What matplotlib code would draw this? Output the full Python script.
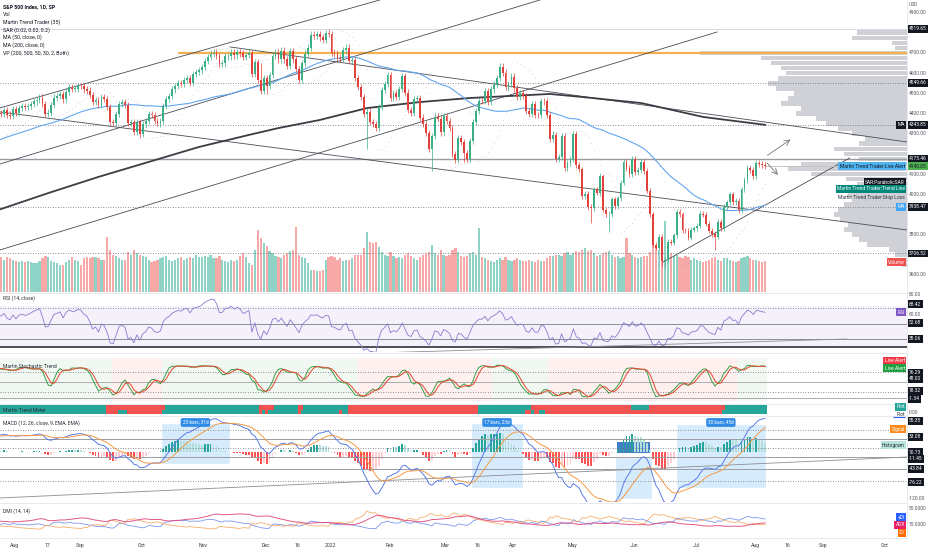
import numpy as np
import pandas as pd
import matplotlib
matplotlib.use("Agg")
import matplotlib.pyplot as plt
from matplotlib.patches import Rectangle

plt.rcParams['font.family'] = ['Roboto', 'DejaVu Sans']

W, H = 932, 550
PLOT_R = 907          # right edge of the panes (px)
XMIN, XMAX = 0.61, 308.1

# daily closes before the first visible bar (warm-up for MA50 and oscillators)
pre_close = [4174, 4163, 4128, 4116, 4160, 4156, 4198, 4188, 4196, 4201, 4204,
             4202, 4209, 4193, 4230, 4227, 4227, 4220, 4239, 4247, 4255, 4246,
             4224, 4222, 4166, 4224, 4246, 4242, 4266, 4281, 4291, 4291, 4298,
             4320, 4352, 4344, 4358, 4321, 4370, 4385, 4369, 4374, 4361, 4327,
             4258, 4323, 4359, 4368, 4412, 4422]

# visible daily closes, 27 Jul 2021 .. 8 Aug 2022
close = [4401, 4400, 4419, 4395,
         4387, 4423, 4403, 4429, 4437, 4432, 4436, 4447, 4460, 4468, 4479, 4448,
         4400, 4405, 4442, 4479, 4486, 4496, 4470, 4509, 4529, 4523,
         4524, 4537, 4535, 4520, 4514, 4493, 4459, 4468, 4443, 4481, 4473, 4433,
         4358, 4354, 4396, 4449, 4455, 4443, 4353, 4360, 4307,
         4357, 4300, 4346, 4363, 4399, 4391, 4361, 4351, 4364, 4438, 4471, 4486,
         4520, 4537, 4549, 4545, 4567, 4575, 4551, 4596, 4605,
         4614, 4631, 4660, 4680, 4697, 4702, 4685, 4646, 4649, 4683, 4683, 4701,
         4689, 4705, 4698, 4682, 4690, 4701, 4595, 4655, 4567,
         4513, 4577, 4538, 4592, 4687, 4701, 4668, 4712, 4669, 4635, 4709, 4669,
         4621, 4568, 4649, 4697, 4726, 4791, 4786, 4793, 4778, 4766,
         4797, 4794, 4701, 4696, 4677, 4670, 4713, 4726, 4660, 4663, 4577, 4533,
         4483, 4398, 4410, 4357, 4350, 4327, 4432, 4516,
         4546, 4589, 4477, 4501, 4484, 4522, 4587, 4504, 4419, 4402, 4472, 4475,
         4380, 4349, 4305, 4226, 4288, 4385, 4374,
         4306, 4387, 4364, 4329, 4201, 4171, 4278, 4260, 4204, 4173, 4262, 4358,
         4412, 4463, 4461, 4512, 4457, 4520, 4543, 4576, 4632, 4603, 4530,
         4546, 4583, 4525, 4481, 4500, 4488, 4413, 4397, 4446, 4392, 4391, 4463,
         4460, 4394, 4272, 4296, 4175, 4183, 4288, 4132,
         4155, 4175, 4300, 4147, 4123, 3991, 4001, 3936, 3930, 4024, 4008, 4089,
         3924, 3901, 3901, 3974, 3941, 3979, 4058, 4158, 4132,
         4101, 4177, 4109, 4121, 4161, 4116, 4018, 3901, 3750, 3735, 3790, 3667,
         3675, 3765, 3760, 3796, 3912, 3901, 3821, 3819, 3785,
         3825, 3831, 3845, 3903, 3899, 3855, 3819, 3802, 3790, 3863, 3831, 3937,
         3960, 3999, 3962, 3967, 3921, 4024, 4072, 4130,
         4119, 4091, 4155, 4152, 4145, 4140]

# volume in billions
volume = [2.9, 2.8, 2.6, 2.8,
          2.7, 2.6, 2.5, 2.4, 2.5, 2.4, 2.5, 2.4, 2.3, 2.3, 2.5, 2.7, 2.9, 2.8,
          2.5, 2.4, 2.3, 2.2, 2.2, 2.4, 2.6, 2.8,
          2.6, 2.5, 2.2, 2.7, 2.8, 2.7, 2.8, 2.8, 2.7, 2.6, 2.6, 4.4, 3.4, 3.0,
          2.9, 2.7, 2.6, 2.6, 3.2, 3.0, 3.4,
          3.1, 3.0, 2.9, 2.8, 2.6, 2.4, 2.5, 2.6, 2.7, 2.8, 2.9, 2.6, 2.5, 2.6,
          2.7, 2.8, 2.6, 2.7, 2.8, 2.7, 3.0,
          2.8, 2.8, 2.9, 2.8, 3.0, 2.7, 2.7, 2.9, 2.6, 2.5, 2.4, 2.6, 2.5, 2.6,
          2.9, 3.1, 2.8, 2.3, 2.2, 3.4, 5.0,
          4.3, 3.9, 3.7, 3.3, 3.1, 2.9, 2.8, 2.7, 3.0, 3.1, 3.3, 3.4, 5.2, 3.0,
          2.8, 2.7, 2.3, 1.8, 1.8, 1.7, 1.7, 1.8,
          2.6, 2.8, 2.9, 2.8, 2.6, 2.7, 2.5, 2.6, 2.6, 2.7, 3.0, 3.0, 3.0, 3.5,
          4.8, 4.0, 3.9, 4.0, 3.6, 3.2,
          3.0, 2.9, 3.2, 2.9, 2.7, 2.8, 2.7, 3.0, 3.1, 2.9, 2.7, 2.6, 2.8, 3.0,
          3.1, 3.2, 3.8, 3.1, 3.0,
          3.4, 3.0, 2.9, 3.0, 3.4, 3.5, 3.2, 2.9, 2.8, 2.9, 3.1, 3.2, 3.0, 5.1,
          2.8, 2.7, 2.6, 2.5, 2.4, 2.6, 2.7, 2.6, 2.8,
          2.6, 2.5, 2.6, 2.7, 2.6, 2.5, 2.5, 2.6, 2.5, 2.4, 2.6, 2.5, 2.5, 2.7,
          2.9, 2.9, 3.0, 3.0, 2.9, 3.1,
          3.2, 3.0, 3.1, 3.3, 3.2, 3.4, 3.5, 3.3, 3.4, 3.1, 2.9, 3.0, 3.1, 3.2,
          3.3, 3.0, 2.8, 2.9, 2.7, 2.8, 4.3,
          3.1, 3.0, 2.8, 2.7, 2.8, 2.9, 2.9, 3.2, 3.9, 3.6, 3.4, 3.6, 5.7, 3.3,
          3.1, 2.9, 3.0, 2.8, 2.7, 2.9, 2.8,
          2.6, 2.7, 2.6, 2.5, 2.4, 2.5, 2.6, 2.7, 2.8, 2.6, 2.5, 2.7, 2.7, 2.6,
          2.5, 2.4, 2.5, 2.7, 2.8, 2.9,
          2.7, 2.6, 2.6, 2.5, 2.4, 2.5]

# notable intraday extremes (visible bar, price)
low_marks = [(48, 4278), (91, 4495), (125, 4222), (147, 4115), (155, 4157),
             (158, 4161), (201, 3859), (207, 3811), (225, 3644), (226, 3637),
             (243, 3722)]
high_marks = [(88, 4646), (89, 4652), (112, 4819), (132, 4595), (170, 4637)]

# 200-day MA (bar, value)
ma200_bar = [0, 17, 34, 51, 68, 85, 95, 109, 125, 143, 160, 187, 198, 218, 239, 260]
ma200_val = [3922, 4006, 4086, 4160, 4234, 4294, 4328, 4368, 4427, 4457, 4477,
             4497, 4482, 4452, 4383, 4344]

# volume profile (row price, relative volume)
vp_price = np.arange(3650, 4801, 25)
vp_vol = [5, 8, 12, 18, 40, 48, 55, 62, 58, 66, 72, 68, 62, 55,
          58, 52, 50, 60, 95, 118, 105, 48, 62, 72, 48, 42,
          55, 68, 80, 90, 110, 105, 125, 118, 112, 130, 138, 128,
          120, 125, 135, 145, 205, 12, 15, 55, 50]

# drawn levels and trend lines (bar, price)
levels = [4819.65, 4549.66, 4343.85, 4175.46, 3938.47, 3706.52]
trend_lines = [((0.6, 4428), (129.4, 4963)), ((0.6, 4150), (183.7, 4963)),
               ((0.6, 3724), (243.7, 4804)), ((0.6, 4408), (308.1, 3823)),
               ((78.6, 4730), (308.1, 4259)), ((225.4, 3664), (288.7, 4180))]
arrows = [((260, 4185), (269.4, 4279)), ((260, 4165), (265, 4086))]

stoch_zones = [(0, 39, 'up'), (39, 56, 'dn'), (56, 122, 'up'), (122, 168, 'dn'),
               (168, 187, 'up'), (187, 251, 'dn'), (251, 261, 'up')]

# date ranges measured on the MACD pane (bar0, bar1, v0, v1, label)
macd_ranges = [(55.5, 78.2, -23.4, 57.5, '23 bars, 31d'),
               (160.6, 177.6, -73.2, 57.5, '17 bars, 23d'),
               (209.4, 221.3, -96.0, -13.0, ''),
               (230.1, 259.9, -73.2, 55.4, '30 bars, 45d')]

date_ticks = [4, 15, 26, 47, 68, 89, 100, 111, 131, 150, 161, 173, 193, 214, 235,
              255, 266, 278, 299]
date_labels = ['Aug', '17', 'Sep', 'Oct', 'Nov', 'Dec', '16', '2022', 'Feb', 'Mar',
               '16', 'Apr', 'May', 'Jun', 'Jul', 'Aug', '16', 'Sep', 'Oct']

legend_lines = ['S&P 500 Index, 1D, SP', 'Vol', 'Martin Trend Trader (35)',
                'SAR (0.02, 0.02, 0.2)', 'MA (50, close, 0)', 'MA (200, close, 0)',
                'VP (200, 500, 50, 30, 2, Both)']

UP, DN = '#3aaf85', '#e0413b'
VUP, VDN = '#8fd3c7', '#f6a9a6'

# ---------- derived series ----------
n_pre = len(pre_close)
n = min(len(close), len(volume))
allc = np.array(pre_close + close[:n], float)
opn = np.r_[allc[0], allc[:-1]]
pad = allc * 0.0035
hi = np.maximum(opn, allc) + pad
lo = np.minimum(opn, allc) - pad
for b, v in low_marks:
    lo[n_pre + b] = min(lo[n_pre + b], v)
for b, v in high_marks:
    hi[n_pre + b] = max(hi[n_pre + b], v)

c = pd.Series(allc)
ma50 = c.rolling(50).mean().values

d = c.diff()
rma = lambda s, k: s.ewm(alpha=1 / k, adjust=False).mean()
rs = rma(d.clip(lower=0), 14) / rma((-d).clip(lower=0), 14)
rsi = (100 - 100 / (1 + rs)).values

hs, ls = pd.Series(hi), pd.Series(lo)
raw_k = 100 * (c - ls.rolling(14).min()) / (hs.rolling(14).max() - ls.rolling(14).min())
stk = raw_k.rolling(3).mean()
std = stk.rolling(3).mean()

macd = c.ewm(span=12, adjust=False).mean() - c.ewm(span=26, adjust=False).mean()
sig = macd.ewm(span=9, adjust=False).mean()
hist = macd - sig

up_m = hs.diff()
dn_m = -ls.diff()
pdm = pd.Series(np.where((up_m > dn_m) & (up_m > 0), up_m, 0.0))
mdm = pd.Series(np.where((dn_m > up_m) & (dn_m > 0), dn_m, 0.0))
tr = pd.concat([hs - ls, (hs - c.shift()).abs(), (ls - c.shift()).abs()], axis=1).max(axis=1)
atr = rma(tr, 14)
pdi = 100 * rma(pdm, 14) / atr
mdi = 100 * rma(mdm, 14) / atr
dx = 100 * (pdi - mdi).abs() / (pdi + mdi)
adx = rma(dx.fillna(0), 14)


def psar(h, l, af0=0.02, step=0.02, amax=0.2):
    out = np.zeros(len(h))
    up, af, ep = True, af0, h[0]
    out[0] = l[0]
    for i in range(1, len(h)):
        s = out[i - 1] + af * (ep - out[i - 1])
        if up:
            s = min(s, l[i - 1], l[max(i - 2, 0)])
            if l[i] < s:
                up, s, ep, af = False, ep, l[i], af0
            elif h[i] > ep:
                ep, af = h[i], min(af + step, amax)
        else:
            s = max(s, h[i - 1], h[max(i - 2, 0)])
            if h[i] > s:
                up, s, ep, af = True, ep, h[i], af0
            elif l[i] < ep:
                ep, af = l[i], min(af + step, amax)
        out[i] = s
    return out


sar = psar(hi, lo)
ema8 = c.ewm(span=8, adjust=False).mean()
ema21 = c.ewm(span=21, adjust=False).mean()

v = slice(n_pre, n_pre + n)
xs = np.arange(n)
o_v, c_v, h_v, l_v = opn[v], allc[v], hi[v], lo[v]
rising = c_v >= o_v

# ---------- figure ----------
fig = plt.figure(figsize=(W / 100, H / 100), dpi=100)


def pane(y0, y1):
    ax = fig.add_axes([0, 1 - y1 / H, PLOT_R / W, (y1 - y0) / H])
    ax.set_xlim(XMIN, XMAX)
    ax.axis('off')
    return ax


dotted = dict(color='#6a6d78', lw=0.6, ls=(0, (1, 2)))

# volume under the price pane
axv = pane(0, 292)
axv.set_ylim(0, 292 / 12.5)
axv.bar(xs, volume[:n], width=0.75, color=np.where(rising, VUP, VDN))

# price pane
ax = pane(0, 292)
ax.set_ylim(3515.6, 4962.6)
vpw = np.array(vp_vol) / max(vp_vol) * 0.228 * (XMAX - XMIN)
ax.barh(vp_price, vpw, left=XMAX - vpw, height=23, color='#d0d1d7', zorder=0.5)
poc = vp_price[int(np.argmax(vp_vol))]
ax.hlines(poc, n - 200, XMAX, color='#f3b04f', lw=1.6, zorder=1)

for lv in levels:
    if lv in (4819.65,):
        ax.axhline(lv, color='#d6d8de', lw=0.7)
    elif lv in (4175.46,):
        ax.axhline(lv, color='#9a9ca3', lw=1.0)
    else:
        ax.axhline(lv, **dotted)
for (x0, y0), (x1, y1) in trend_lines:
    ax.plot([x0, x1], [y0, y1], color='#4a4c55', lw=0.6)
for (x0, y0), (x1, y1) in arrows:
    ax.annotate('', xy=(x1, y1), xytext=(x0, y0),
                arrowprops=dict(arrowstyle='->', color='#777', lw=0.6))
ax.hlines(c_v[-1], n - 1, 285, color='#b8bac0', lw=0.6)

ax.plot(ma200_bar, ma200_val, color='#3c3c44', lw=1.3, zorder=2)
ax.plot(xs, ma50[v], color='#62a7ef', lw=0.8, zorder=2)
ax.plot(xs, sar[v], ls='none', marker='o', ms=0.35, mew=0, color='#8f8f8f', zorder=2)

cols = np.where(rising, UP, DN)
ax.vlines(xs, l_v, h_v, colors=cols, lw=0.5, zorder=3)
body = np.maximum(np.abs(c_v - o_v), 1.5)
ax.bar(xs, body, bottom=np.minimum(o_v, c_v), width=0.62, color=cols, zorder=3)

# RSI pane
ar = pane(293, 352)
ar.set_ylim(25.12, 82.68)
ar.axhspan(30, 70, color='#7e57c2', alpha=0.08, lw=0)
ar.axhline(68.42, **dotted)
ar.axhline(52.68, color='#8c8e96', lw=0.7)
ar.axhline(38.06, color='#8c8e96', lw=0.7)
ar.axhline(30, color='#1f1f25', lw=1.1)
ar.plot([127, 287.7], [24.1, 37.8], color='#8c8e96', lw=0.6)
ar.plot(xs, rsi[v], color='#8b7ad0', lw=0.6)

# stochastic pane
ak = pane(353, 403)
ak.set_ylim(-14.7, 132.35)
for a, b, st in stoch_zones:
    ak.axvspan(a - 0.5, b - 0.5, ymin=0.04, ymax=0.9,
               color='#4caf50' if st == 'up' else '#f44336', alpha=0.08, lw=0)
ak.axhline(76.29, **dotted)
ak.axhline(48.0, color='#a0a2a8', lw=0.6)
ak.axhline(18.32, **dotted)
ak.axhline(-1.34, color='#a0a2a8', lw=0.6)
ak.plot(xs, stk.values[v], color='#3e9b46', lw=0.7)
ak.plot(xs, std.values[v], color='#e8452f', lw=0.7)

# trend meter
am = pane(404, 415)
am.set_ylim(0, 1)
top = np.where(ema8.values[v] > ema21.values[v], '#26a69a', '#f05350')
bot = np.where(c_v > ma50[v], '#26a69a', '#f05350')
am.bar(xs, 0.45, bottom=0.46, width=1.0, color=top)
am.bar(xs, 0.37, bottom=0.09, width=1.0, color=bot)

# MACD pane
ac = pane(416, 502)
ac.set_ylim(-104.4, 74.07)
hv = hist.values[v]
hp = np.r_[hv[0], hv[:-1]]
hcol = np.where(hv >= 0, np.where(hv >= hp, '#26a69a', '#b2dfdb'),
                np.where(hv < hp, '#ff5252', '#ffcdd2'))
for a, b, y0, y1, lab in macd_ranges:
    ac.add_patch(Rectangle((a, y0), b - a, y1 - y0, fc='#2196f3', alpha=0.18,
                           ec='#64b5f6', lw=0.4))
ac.axhline(45.0, **dotted)
ac.axhline(26.3, color='#9a9ca3', lw=0.7)
ac.axhline(8.1, **dotted)
ac.axhline(-11.45, color='#9a9ca3', lw=0.7)
ac.axhline(-36.0, color='#9a9ca3', lw=0.7)
ac.axhline(-61.0, **dotted)
ac.plot([0.6, 308.1], [-96, -11], color='#8c8e96', lw=0.6)
ac.bar(xs, hv, width=0.62, color=hcol)
ac.plot(xs, macd.values[v], color='#5b7be8', lw=0.7)
ac.plot(xs, sig.values[v], color='#f39a45', lw=0.7)
for a, b, y0, y1, lab in macd_ranges:
    if lab:
        ac.text((a + b) / 2, 60.6, lab, ha='center', va='center', fontsize=3.4,
                color='white', bbox=dict(boxstyle='round,pad=0.4', fc='#2f8be6', ec='none'))
    else:
        ac.add_patch(Rectangle((a + 0.3, -2.7), b - a - 0.6, 22.7, fc='#2f6fc4',
                               ec='none', alpha=0.9, zorder=0.5))

# DMI pane
ai = pane(503, 537)
ai.set_ylim(-9.67, 60.3)
ai.plot(xs, pdi.values[v], color='#6c8cf0', lw=0.6, alpha=0.9)
ai.plot(xs, mdi.values[v], color='#f5a35a', lw=0.6, alpha=0.9)
ai.plot(xs, adx.values[v], color='#e0457b', lw=0.7, alpha=0.9)
tr_x = ai.get_xaxis_transform()
for t, lab in zip(date_ticks, date_labels):
    ai.text(t + 1.6, -0.24, lab, transform=tr_x, ha='center', va='center',
            fontsize=3.7, color='#3a3d45', clip_on=False)

# ---------- overlay text ----------
ov = fig.add_axes([0, 0, 1, 1])
ov.set_xlim(0, W)
ov.set_ylim(H, 0)
ov.axis('off')
ov.set_zorder(10)

for yy in (292.5, 352.5, 403.5, 415.5, 502.5, 537.5):
    ov.hlines(yy, 0, PLOT_R, color='#e3e5ea', lw=0.6)
ov.vlines(PLOT_R, 0, 537.5, color='#e3e5ea', lw=0.6)

for k, line in enumerate(legend_lines):
    ov.text(3, 6.7 + 7.7 * k, line, fontsize=3.8, va='center', color='#131722',
            fontweight='bold' if k == 0 else 'normal')
titles = [(298, 'RSI (14, close)'), (366, 'Martin Stochastic Trend'),
          (410, 'Martin Trend Meter'), (423, 'MACD (12, 26, close, 9, EMA, EMA)'),
          (511, 'DMI (14, 14)')]
for yy, t in titles:
    ov.text(3, yy, t, fontsize=3.6, va='center', color='#2a2e39')


def tag(y, text, fc=None, tc='#50535e', x=909, ha='left'):
    kw = dict(fontsize=3.5, color=tc, ha=ha, va='center')
    if fc:
        kw['bbox'] = dict(boxstyle='square,pad=0.3', fc=fc, ec='none')
    ov.text(x, y, text, **kw)


BLK = '#131722'
# price axis
tag(5, 'USD')
for p in range(4900, 3599, -100):
    y = 53 + (4700 - p) * 0.2018
    if min(abs(y - yy) for yy in (29, 83, 125, 159, 166, 207, 253.5)) > 8:
        tag(y, f'{p:.2f}')
for yy, t in [(29, '4819.65'), (83, '4549.66'), (125, '4343.85'), (159, '4175.46'),
              (207, '3938.47'), (253.5, '3706.52')]:
    tag(yy, t, BLK, 'white')
tag(166, '4140.05', '#4caf50', BLK)
tag(125, 'MA', BLK, 'white', x=905, ha='right')
tag(166, 'Martin Trend Trader:Live Alert', '#4fb3f0', BLK, x=905, ha='right')
tag(182, 'SAR:ParabolicSAR', BLK, 'white', x=905, ha='right')
tag(189, 'Martin Trend Trader:Trend Line', '#00897b', 'white', x=905, ha='right')
tag(197, 'Martin Trend Trader:Stop Loss', None, '#2a2e39', x=905, ha='right')
tag(207, 'MA', '#42a5f5', 'white', x=905, ha='right')
tag(262, 'Volume', '#ef5350', 'white', x=905, ha='right')
# RSI
tag(295, '80.00')
tag(304, '68.42', BLK, 'white')
tag(315, '60.00')
tag(323, '52.68', BLK, 'white')
tag(339, '38.06', BLK, 'white')
tag(312, 'RSI', '#7e57c2', 'white', x=905, ha='right')
# stochastic
tag(361, 'Live Alert', '#f23645', 'white', x=905, ha='right')
tag(368, 'Live Alert', '#1e9e3c', 'white', x=905, ha='right')
for yy, t in [(373, '76.29'), (379, '48.00'), (391, '18.32'), (399, '-1.34')]:
    tag(yy, t, BLK, 'white')
# trend meter
tag(407, 'Plot', '#26a69a', 'white', x=905, ha='right')
tag(414, 'Plot', None, '#2a2e39', x=905, ha='right')
ov.hlines(416.5, 893, 905, color='#2962ff', lw=0.8)
tag(413, '0.00')
# MACD
for yy, t in [(421, '55.35'), (437, '33.08'), (452, '10.73'), (459, '-11.45'),
              (469, '-43.84'), (482, '-76.22')]:
    tag(yy, t, BLK, 'white')
tag(498, '-120.00')
tag(429, 'Signal', '#ff8a1f', 'white', x=905, ha='right')
tag(445, 'Histogram', '#b7e4dc', '#2a2e39', x=905, ha='right')
# DMI
tag(508, '50.0000')
tag(525, '15.0000')
tag(517, '+DI', '#2962ff', 'white', x=905, ha='right')
tag(525, 'ADX', '#e91e63', 'white', x=905, ha='right')
tag(533, '-DI', '#ff6d00', 'white', x=905, ha='right')

fig.savefig('out.png', dpi=100)
